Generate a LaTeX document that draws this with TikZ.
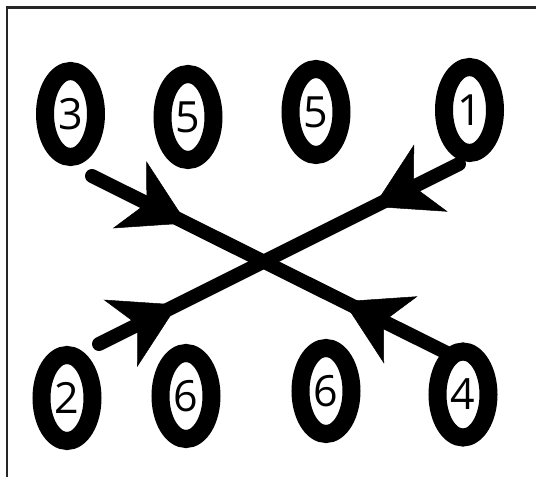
\documentclass[tikz,border=0pt]{standalone}
\usepackage{fontspec}
\setmainfont{Open Sans}
\usetikzlibrary{arrows.meta,decorations.markings,shapes.geometric}
\tikzset{
  ring/.style={draw=black, line width=18pt, fill=white, ellipse, minimum width=51pt,
    minimum height=86pt, inner sep=0pt, font=\fontsize{43}{43}\selectfont},
  cross/.style={line width=14pt, line cap=round, black},
  head/.tip={Stealth[length=64pt,width=75pt,inset=19pt,line width=0.5pt]},
  frameline/.style={line width=2.5pt, black!85}
}
\begin{document}
\begin{tikzpicture}[x=1pt,y=1pt]
\useasboundingbox (0,0) rectangle (536,477);
\fill[white] (0,0) rectangle (536,477);
% frame (top and left sides visible)
\coordinate (fcorner) at (7,469.5);
\coordinate (fright) at (536,469.5);
\coordinate (fbottom) at (7,0);
\draw[frameline] (fright) -- (fcorner) -- (fbottom);
% ring positions
\coordinate (p3) at (70.5,363);
\coordinate (p5a) at (188,360);
\coordinate (p5b) at (316,365);
\coordinate (p1) at (469.5,367);
\coordinate (p2) at (67,79);
\coordinate (p6a) at (186,81);
\coordinate (p6b) at (326,86);
\coordinate (p4) at (463,82.5);
% connector ends, tied to the rings
\coordinate (l1s) at ([shift={(21.5,-62)}]p3);
\coordinate (l1e) at ([shift={(-8,37.5)}]p4);
\coordinate (l2s) at ([shift={(32,54)}]p2);
\coordinate (l2e) at ([shift={(-10.5,-54)}]p1);
% connectors
\draw[cross, postaction={decorate}, decoration={markings,
   mark=at position 106pt with {\arrow{head}},
   mark=at position 281pt with {\arrowreversed{head}}}] (l1s) -- (l1e);
\draw[cross, postaction={decorate}, decoration={markings,
   mark=at position 88pt with {\arrow{head}},
   mark=at position 307pt with {\arrowreversed{head}}}] (l2s) -- (l2e);
% rings
\node[ring] (n3) at (p3) {3};
\node[ring] (n5a) at (p5a) {5};
\node[ring] (n5b) at (p5b) {5};
\node[ring] (n1) at (p1) {1};
\node[ring] (n2) at (p2) {2};
\node[ring] (n6a) at (p6a) {6};
\node[ring] (n6b) at (p6b) {6};
\node[ring] (n4) at (p4) {4};
\end{tikzpicture}
\end{document}
